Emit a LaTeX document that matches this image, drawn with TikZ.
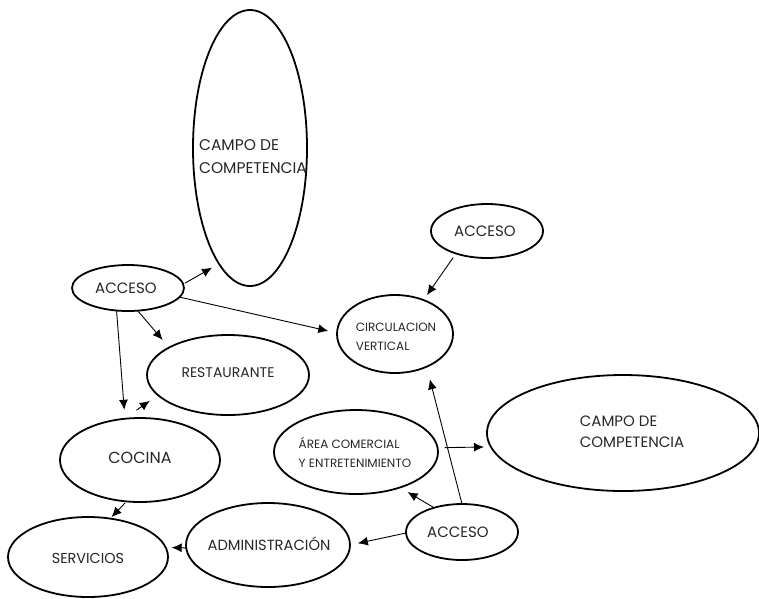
\documentclass[tikz,border=0pt]{standalone}
\usepackage{fontspec}
\setmainfont{Poppins}
\usetikzlibrary{shapes.geometric,arrows.meta}
\begin{document}
\begin{tikzpicture}[x=1pt,y=-1pt,
  ell/.style={draw, ellipse, line width=1.8pt, inner sep=0pt, outer sep=0pt},
  lbl/.style={align=left, inner sep=0pt, text=black!85},
  arr/.style={-{Latex[length=10pt,width=9pt]}, line width=0.9pt}]
\useasboundingbox (0,0) rectangle (759,598);
% ellipses
\node[ell, minimum width=114pt, minimum height=276pt] (camp1) at (250,148) {};
\node[ell, minimum width=112pt, minimum height=46pt] (acc1) at (128,288) {};
\node[ell, minimum width=162pt, minimum height=80pt] (rest) at (228,375) {};
\node[ell, minimum width=160pt, minimum height=84pt] (coc) at (140,460) {};
\node[ell, minimum width=160pt, minimum height=80pt] (serv) at (88,557) {};
\node[ell, minimum width=164pt, minimum height=84pt] (adm) at (268,545) {};
\node[ell, minimum width=112pt, minimum height=54pt] (acc2) at (487,231) {};
\node[ell, minimum width=116pt, minimum height=78pt] (circ) at (395,334) {};
\node[ell, minimum width=164pt, minimum height=84pt] (area) at (356,452) {};
\node[ell, minimum width=272pt, minimum height=116pt] (camp2) at (623,433) {};
\node[ell, minimum width=112pt, minimum height=56pt] (acc3) at (462,532) {};
% labels
\node[lbl, font=\fontsize{15.5}{23}\selectfont] (camp1t) at (253,157) {CAMPO DE\\COMPETENCIA};
\node[lbl, font=\fontsize{15}{18}\selectfont] (acc1t) at (126,288) {ACCESO};
\node[lbl, font=\fontsize{14}{18}\selectfont] (restt) at (228,373) {RESTAURANTE};
\node[lbl, font=\fontsize{16}{18}\selectfont] (coct) at (140,458) {COCINA};
\node[lbl, font=\fontsize{14.4}{18}\selectfont] (servt) at (88,558) {SERVICIOS};
\node[lbl, font=\fontsize{14.7}{18}\selectfont] (admt) at (269,544) {ADMINISTRACIÓN};
\node[lbl, font=\fontsize{15}{18}\selectfont] (acc2t) at (485,231) {ACCESO};
\node[lbl, font=\fontsize{12}{19}\selectfont] (circt) at (396,337) {CIRCULACION\\VERTICAL};
\node[lbl, font=\fontsize{12}{19}\selectfont] (areat) at (355,452) {ÁREA COMERCIAL\\Y ENTRETENIMIENTO};
\node[lbl, font=\fontsize{15}{21}\selectfont] (camp2t) at (632,432) {CAMPO DE\\COMPETENCIA};
\node[lbl, font=\fontsize{15}{18}\selectfont] (acc3t) at (458,532) {ACCESO};
% connectors
\draw[arr, shorten <=2pt, shorten >=8pt] (acc1.4) -- (camp1.255);
\draw[arr, shorten >=9pt] (acc1.350) -- (circ.179);
\draw[arr, shorten >=10pt] (acc1.293) -- (rest.155);
\draw[arr, shorten >=9pt] (acc1.243) -- (coc.110);
\draw[arr, shorten <=15pt, shorten >=10pt] (coc.111) -- (rest.196);
\draw[arr, shorten <=2pt, shorten >=2pt] (coc.252) -- (serv.60);
\draw[arr, shorten >=6pt] (adm.182) -- (serv.7);
\draw[arr, shorten >=8pt] (acc3.181) -- (adm.0);
\draw[arr, shorten >=9pt] (acc3.139) -- (area.321);
\draw[arr, shorten >=13pt] (acc3.90) -- (circ.314);
\draw[arr, shorten <=7pt, shorten >=7pt] (area.3) -- (camp2.186);
\draw[arr, shorten <=5pt, shorten >=6pt] (acc2.216) -- (circ.50);
\end{tikzpicture}
\end{document}
